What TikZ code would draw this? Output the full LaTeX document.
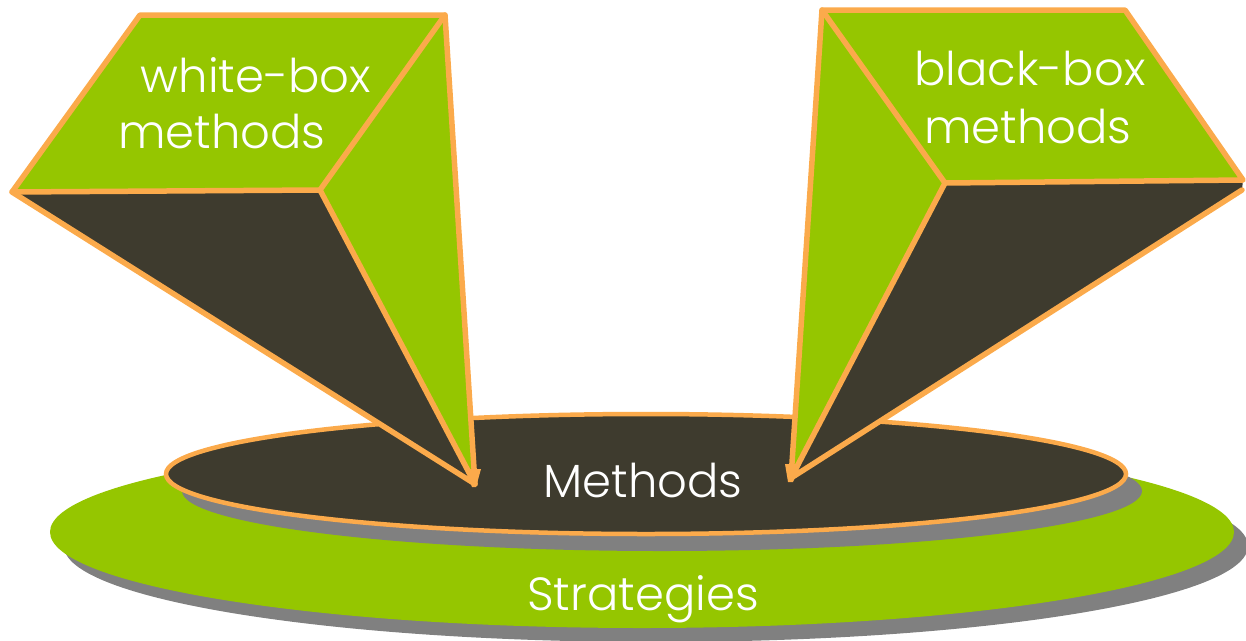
\documentclass[tikz,border=0pt]{standalone}
\usepackage{fontspec}
\newfontfamily\pop{Poppins Light}
\definecolor{lgreen}{RGB}{149,198,0}
\definecolor{dkbrown}{RGB}{62,59,46}
\definecolor{orng}{RGB}{251,170,75}
\definecolor{shadowgray}{RGB}{128,128,128}
\tikzset{
  edge/.style={draw=orng, line width=5.5pt, line join=round, line cap=round},
  lbl/.style={text=white, font=\pop\fontsize{46.5}{56}\selectfont, anchor=base, inner sep=0pt},
}
\begin{document}
\begin{tikzpicture}[x=1pt,y=-1pt]
\useasboundingbox (0,0) rectangle (1246,640);
% Strategies disc
\fill[shadowgray] (656,546) ellipse [x radius=592, y radius=96];
\fill[lgreen] (642,532) ellipse [x radius=592, y radius=96];
% Methods disc
\fill[shadowgray] (662,491) ellipse [x radius=480, y radius=60];
\filldraw[fill=dkbrown, draw=orng, line width=4.5pt] (646,474) ellipse [x radius=480, y radius=60];
% left prism
\coordinate (LA) at (140,15);
\coordinate (LB) at (445,15);
\coordinate (LC) at (320,190);
\coordinate (LD) at (12,192);
\coordinate (LT) at (475,484);
\fill[dkbrown] (LD) -- (LC) -- (LT) -- cycle;
\fill[lgreen] (LB) -- (LC) -- (LT) -- cycle;
\filldraw[fill=lgreen, edge] (LA) -- (LB) -- (LC) -- (LD) -- cycle;
\draw[edge] (LB) -- (LT) -- (LC);
\draw[edge] (LD) -- (LT);
\fill[orng] (465,469) -- (481,469) -- (476,487) -- (472,487) -- cycle;
% right prism
\coordinate (RA) at (822,10);
\coordinate (RB) at (1125,10);
\coordinate (RC) at (1243,180);
\coordinate (RD) at (945,183);
\coordinate (RE) at (1242,190);
\coordinate (RT) at (791,478);
\fill[dkbrown] (RD) -- (RC) -- (RE) -- (RT) -- cycle;
\fill[lgreen] (RA) -- (RD) -- (RT) -- cycle;
\filldraw[fill=lgreen, edge] (RA) -- (RB) -- (RC) -- (RD) -- cycle;
\draw[edge] (RA) -- (RT) -- (RD);
\draw[edge] (RE) -- (RT);
\fill[orng] (785,464) -- (801,464) -- (793,482) -- (788,482) -- cycle;
% labels
\node[lbl] (wb1) at (256,92) {white-box};
\node[lbl] (wb2) at (222,148) {methods};
\node[lbl] (bb1) at (1030,85) {black-box};
\node[lbl] (bb2) at (1028,143) {methods};
\node[lbl] (meth) at (643,497) {Methods};
\node[lbl] (strat) at (643,610) {Strategies};
\end{tikzpicture}
\end{document}
